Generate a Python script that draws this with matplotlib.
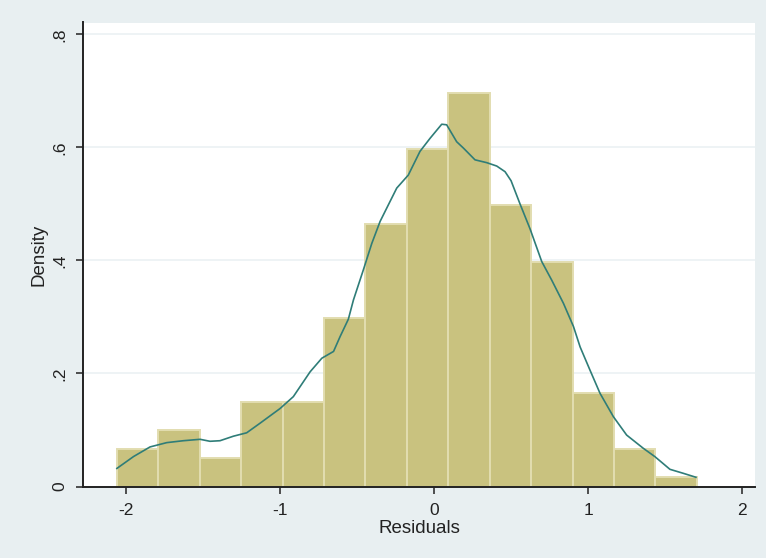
import numpy as np
import matplotlib
matplotlib.use("Agg")
import matplotlib.pyplot as plt

# Histogram of residuals: 14 equal-width bins
bin_start = -2.058
bin_width = 0.2688
densities = [0.0664, 0.0996, 0.0498, 0.149, 0.149, 0.299, 0.465,
             0.598, 0.697, 0.498, 0.398, 0.166, 0.0664, 0.0166]

# Kernel density estimate of the residuals
kde_x = [-2.058, -1.95, -1.843, -1.735, -1.627, -1.518, -1.454, -1.389,
         -1.302, -1.216, -1.129, -0.999, -0.913, -0.804, -0.728, -0.652,
         -0.61, -0.556, -0.523, -0.459, -0.404, -0.350, -0.297, -0.242,
         -0.167, -0.091, -0.026, 0.050, 0.082, 0.147, 0.190, 0.266, 0.342,
         0.407, 0.461, 0.500, 0.558, 0.623, 0.699, 0.764, 0.840, 0.905,
         0.948, 1.012, 1.077, 1.164, 1.250, 1.358, 1.434, 1.531, 1.618,
         1.700]
kde_y = [0.032, 0.053, 0.070, 0.0776, 0.081, 0.0835, 0.080, 0.081,
         0.089, 0.095, 0.112, 0.138, 0.159, 0.203, 0.227, 0.239,
         0.265, 0.296, 0.330, 0.383, 0.430, 0.469, 0.498, 0.528,
         0.551, 0.593, 0.616, 0.641, 0.640, 0.610, 0.599, 0.578, 0.573,
         0.567, 0.557, 0.541, 0.500, 0.456, 0.398, 0.365, 0.324, 0.283,
         0.247, 0.206, 0.165, 0.1235, 0.091, 0.0676, 0.0527, 0.0304, 0.0233,
         0.0163]

x_ticks = [-2, -1, 0, 1, 2]
x_tick_labels = ["-2", "-1", "0", "1", "2"]
y_ticks = [0, 0.2, 0.4, 0.6, 0.8]
y_tick_labels = ["0", ".2", ".4", ".6", ".8"]

plt.rcParams['font.family'] = ['Liberation Sans', 'DejaVu Sans']

W, H = 766, 558
fig = plt.figure(figsize=(W / 100, H / 100), dpi=100)
fig.patch.set_facecolor("#e8eff1")

left, right, top, bottom = 83, 755, 22.5, 486.5
ax = fig.add_axes([left / W, (H - bottom) / H, (right - left) / W, (bottom - top) / H])
ax.set_facecolor("white")

edges = bin_start + bin_width * np.arange(len(densities))
ax.bar(edges, densities, width=bin_width, align="edge",
       color="#c9c27f", edgecolor="#e2ddb0", linewidth=1.4, zorder=2)
ax.plot(kde_x, kde_y, color="#2f7d78", linewidth=1.2, zorder=3)

ax.set_xlim(-2.278, 2.083)
ax.set_ylim(0, 0.821)

ax.set_yticks(y_ticks)
ax.set_yticklabels(y_tick_labels, rotation=90, va="center")
ax.set_xticks(x_ticks)
ax.set_xticklabels(x_tick_labels)

ax.grid(axis="y", color="#edf2f4", linewidth=1.3, zorder=0)
ax.set_axisbelow(True)

for s in ("top", "right"):
    ax.spines[s].set_visible(False)
for s in ("left", "bottom"):
    ax.spines[s].set_color("#222222")
    ax.spines[s].set_linewidth(1.4)

ax.tick_params(axis="both", direction="out", length=5, width=1.1,
               color="#222222", labelsize=12.5, labelcolor="#222222")
ax.tick_params(axis="x", pad=7)
ax.tick_params(axis="y", pad=6)

ax.set_xlabel("Residuals", fontsize=13.5, color="#222222", labelpad=1)
ax.set_ylabel("Density", fontsize=13.5, color="#222222", labelpad=4)

fig.savefig("out.png", dpi=100, facecolor=fig.get_facecolor())
